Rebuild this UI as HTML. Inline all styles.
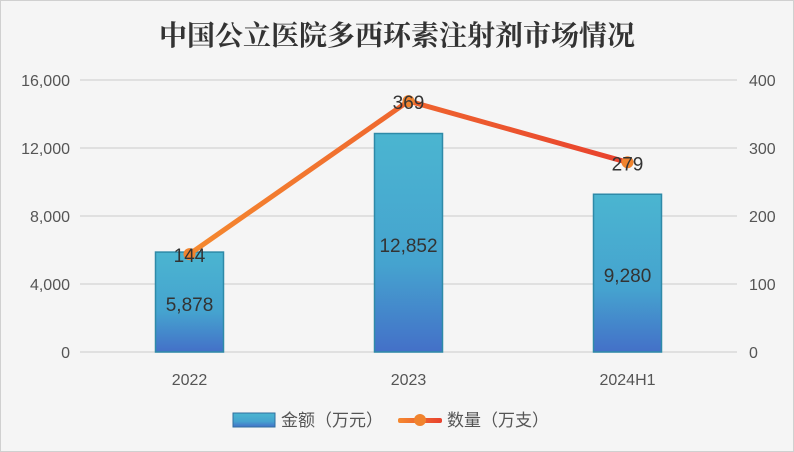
<!DOCTYPE html>
<html><head><meta charset="utf-8"><style>
body{margin:0;background:#f5f5f5;}
svg{display:block;font-family:"Liberation Sans","Noto Sans CJK SC",sans-serif;}
</style></head><body>
<svg id="c" width="794" height="452" viewBox="0 0 794 452">
<defs>
<linearGradient id="bg" x1="0" y1="0" x2="0" y2="1"><stop offset="0" stop-color="#4bb5d0"/><stop offset="0.6" stop-color="#45a3cf"/><stop offset="1" stop-color="#4470c8"/></linearGradient>
<linearGradient id="lg" x1="0" y1="0" x2="1" y2="0"><stop offset="0" stop-color="#f5892f"/><stop offset="1" stop-color="#e8412e"/></linearGradient>
<linearGradient id="lg2" gradientUnits="userSpaceOnUse" x1="398" y1="0" x2="442" y2="0"><stop offset="0" stop-color="#f5892f"/><stop offset="1" stop-color="#e8412e"/></linearGradient>
</defs>
<rect x="0.5" y="0.5" width="793" height="451" fill="#f5f5f5" stroke="#d0d0d0"/>
<text x="397" y="45" text-anchor="middle" font-size="28" font-weight="bold" fill="#333" font-family="'Liberation Serif','Noto Serif CJK SC',serif">中国公立医院多西环素注射剂市场情况</text>
<g id="grid"></g><g id="bars"></g><g id="line"></g><g id="labels"></g>
<g>
<rect x="233" y="413" width="42" height="14" fill="url(#bg)" stroke="#2f6f9f"/>
<text x="281" y="426" font-size="17" fill="#555">金额（万元）</text>
<rect x="398" y="418" width="44" height="5" rx="2" fill="url(#lg2)"/>
<circle cx="420" cy="420" r="6" fill="#f0832e"/>
<text x="447" y="426" font-size="17" fill="#555">数量（万支）</text>
</g>
</svg>
<script>
const categories=["2022","2023","2024H1"];
const amounts=[5878,12852,9280];
const quantities=[144,369,279];
const leftTicks=[0,4000,8000,12000,16000];
const rightTicks=[0,100,200,300,400];
const NS="http://www.w3.org/2000/svg";
const y0=352,yTop=80,x0=80,x1=737;
const yL=v=>y0-(v/16000)*(y0-yTop);
const yR=v=>y0-(v/400)*(y0-yTop);
const xC=i=>x0+(x1-x0)*(i+0.5)/categories.length;
function mk(t,a,p){const e=document.createElementNS(NS,t);for(const k in a)e.setAttribute(k,a[k]);p.appendChild(e);return e;}
const grid=document.getElementById('grid'),bars=document.getElementById('bars'),line=document.getElementById('line'),labels=document.getElementById('labels');
leftTicks.forEach((v,i)=>{
 const g=mk('line',{x1:x0,x2:x1,y1:yL(v),y2:yL(v),stroke:'#d9d9d9','stroke-width':1.5},grid);
 
 
 const t=mk('text',{x:70,y:yL(v)+6,'text-anchor':'end','font-size':16,fill:'#555'},grid);
 t.textContent=v.toLocaleString('en-US');
 
 
 const r=mk('text',{x:749,y:yR(rightTicks[i])+6,'font-size':16,fill:'#555'},grid);
 r.textContent=rightTicks[i];
 
 
});
categories.forEach((c,i)=>{
 const b=mk('rect',{x:xC(i)-34,y:yL(amounts[i]),width:68,height:y0-yL(amounts[i]),fill:'url(#bg)',stroke:'#2e8aa8','stroke-width':1.5},bars);
 
 
 const t=mk('text',{x:xC(i),y:385,'text-anchor':'middle','font-size':16,fill:'#555'},labels);
 t.textContent=c;
 
 
 const v=mk('text',{x:xC(i),y:(yL(amounts[i])+y0)/2+9,'text-anchor':'middle','font-size':19,fill:'#333'},labels);
 v.textContent=amounts[i].toLocaleString('en-US');
 
 
});
const pts=quantities.map((q,i)=>xC(i)+','+yR(q)).join(' ');
const pl=mk('polyline',{points:pts,fill:'none',stroke:'url(#lg)','stroke-width':5,'stroke-linejoin':'round'},line);


quantities.forEach((q,i)=>{
 const c=mk('circle',{cx:xC(i),cy:yR(q),r:6,fill:'#f0832e'},line);
 
 
 const t=mk('text',{x:xC(i),y:yR(q)+8,'text-anchor':'middle','font-size':19,fill:'#333'},labels);
 t.textContent=q;
 
 
});
</script>
</body></html>
